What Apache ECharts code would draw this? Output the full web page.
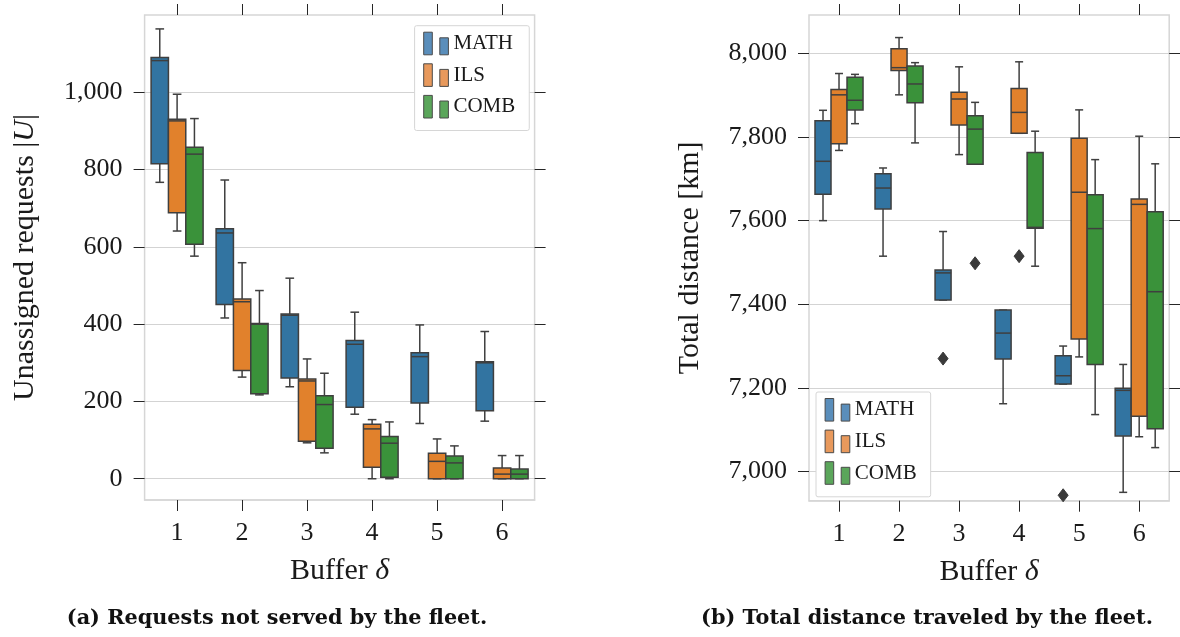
<!DOCTYPE html>
<html><head><meta charset="utf-8">
<script src="https://cdn.jsdelivr.net/npm/echarts@6/dist/echarts.min.js"></script>
<style>html,body{margin:0;padding:0;background:#fff}#c{width:1180px;height:637px}</style>
</head><body><div id="c"></div>
<script>
// ---------- data ----------
const categories = ['1', '2', '3', '4', '5', '6'];
const methods = ['MATH', 'ILS', 'COMB'];
// each row: [lower whisker, Q1, median, Q3, upper whisker] for buffer 1..6
const unassignedMATH = [[767, 815, 1082, 1090, 1164], [416, 451, 636, 647, 773], [238, 261, 423, 426, 519], [167, 185, 348, 358, 431], [143, 196, 316, 326, 398], [149, 176, 300, 303, 381]];
const unassignedILS  = [[641, 688, 926, 930, 995], [263, 280, 458, 465, 559], [93, 97, 253, 258, 310], [0, 30, 129, 141, 153], [0, 0, 45, 66, 103], [0, 0, 12, 28, 60]];
const unassignedCOMB = [[576, 607, 840, 858, 932], [217, 220, 400, 402, 487], [67, 79, 192, 215, 273], [0, 4, 92, 109, 147], [0, 0, 41, 59, 85], [0, 0, 12, 25, 60]];
const distanceMATH = [[7600, 7663, 7742, 7839, 7864], [7515, 7628, 7678, 7712, 7726], [7410, 7410, 7475, 7482, 7574], [7162, 7269, 7331, 7386, 7386], [7209, 7209, 7229, 7277, 7300], [6950, 7085, 7194, 7199, 7256]];
const distanceILS  = [[7768, 7784, 7901, 7914, 7952], [7901, 7959, 7966, 8011, 8038], [7758, 7829, 7891, 7907, 7968], [7809, 7809, 7859, 7916, 7980], [7274, 7317, 7668, 7797, 7865], [7083, 7132, 7639, 7652, 7802]];
const distanceCOMB = [[7832, 7865, 7888, 7943, 7950], [7786, 7882, 7927, 7970, 7978], [7735, 7735, 7819, 7851, 7883], [7491, 7582, 7584, 7763, 7814], [7136, 7256, 7581, 7662, 7746], [7057, 7102, 7430, 7621, 7736]];
// outliers: [buffer index (0-based), value]
const distanceOutliersMATH = [[2, 7270], [4, 6943]];
const distanceOutliersILS  = [[3, 7515]];
const distanceOutliersCOMB = [[2, 7498]];
const unassignedTicks = [0, 200, 400, 600, 800, 1000];
const distanceTicks = [7000, 7200, 7400, 7600, 7800, 8000];

// ---------- styles ----------
const FONT = "'Liberation Serif', 'DejaVu Serif', serif";
const TEXT = '#1a1a1a';
const EDGE = '#3f3f3f';
const TICK = '#262626';
const GRIDC = '#d3d3d3';
const FRAME = '#d6d6d6';
const boxColors = ['#3274a1', '#e1812c', '#3a923a'];
const legendColors = ['#5a8ebb', '#e8995c', '#5ba65b'];

function boxRenderer(hue) {
  return function (params, api) {
    const cat = api.value(0);
    const band = api.size([1, 0])[0];
    const w = band * 0.8 / 3;
    const cx = api.coord([cat, api.value(3)])[0] + (hue - 1) * w;
    const yLow = api.coord([cat, api.value(1)])[1];
    const yQ1 = api.coord([cat, api.value(2)])[1];
    const yMed = api.coord([cat, api.value(3)])[1];
    const yQ3 = api.coord([cat, api.value(4)])[1];
    const yHigh = api.coord([cat, api.value(5)])[1];
    const ls = { stroke: EDGE, lineWidth: 1.5 };
    const cw = w * 0.25;
    return {
      type: 'group',
      children: [
        { type: 'line', shape: { x1: cx, y1: yQ1, x2: cx, y2: yLow }, style: ls },
        { type: 'line', shape: { x1: cx - cw, y1: yLow, x2: cx + cw, y2: yLow }, style: ls },
        { type: 'line', shape: { x1: cx, y1: yQ3, x2: cx, y2: yHigh }, style: ls },
        { type: 'line', shape: { x1: cx - cw, y1: yHigh, x2: cx + cw, y2: yHigh }, style: ls },
        { type: 'rect', shape: { x: cx - w / 2, y: yQ3, width: w, height: Math.max(yQ1 - yQ3, 0.5) },
          style: { fill: boxColors[hue], stroke: EDGE, lineWidth: 1.5 } },
        { type: 'line', shape: { x1: cx - w / 2, y1: yMed, x2: cx + w / 2, y2: yMed }, style: ls }
      ]
    };
  };
}
function outlierRenderer(hue) {
  return function (params, api) {
    const cat = api.value(0);
    const band = api.size([1, 0])[0];
    const w = band * 0.8 / 3;
    const p = api.coord([cat, api.value(1)]);
    const cx = p[0] + (hue - 1) * w, cy = p[1];
    return {
      type: 'polygon',
      shape: { points: [[cx, cy - 6.5], [cx + 5, cy], [cx, cy + 6.5], [cx - 5, cy]] },
      style: { fill: '#3a3a3a', stroke: '#3a3a3a', lineWidth: 1 }
    };
  };
}
function boxData(arr) { return arr.map((r, i) => [i].concat(r)); }

const leftSets = [unassignedMATH, unassignedILS, unassignedCOMB];
const rightSets = [distanceMATH, distanceILS, distanceCOMB];
const rightOut = [distanceOutliersMATH, distanceOutliersILS, distanceOutliersCOMB];

const series = [];
methods.forEach((m, h) => {
  series.push({ type: 'custom', name: m, xAxisIndex: 0, yAxisIndex: 0, renderItem: boxRenderer(h),
    itemStyle: { color: boxColors[h] }, encode: { x: 0, y: [1, 2, 3, 4, 5] }, data: boxData(leftSets[h]), z: 3 });
  series.push({ type: 'custom', name: m, xAxisIndex: 2, yAxisIndex: 2, renderItem: boxRenderer(h),
    itemStyle: { color: boxColors[h] }, encode: { x: 0, y: [1, 2, 3, 4, 5] }, data: boxData(rightSets[h]), z: 3 });
  series.push({ type: 'custom', name: 'out-' + m, xAxisIndex: 2, yAxisIndex: 2, renderItem: outlierRenderer(h),
    encode: { x: 0, y: 1 }, data: rightOut[h], z: 4 });
});

const iconPath = 'path://M0,0H8.6V22.6H0Z M16.1,5.6H24.7V22.6H16.1Z';
function legendCfg(left, top) {
  return {
    orient: 'vertical', left: left, top: top,
    padding: [6, 14, 12, 8.6], itemGap: 8, itemWidth: 24.7, itemHeight: 22.6,
    backgroundColor: '#fff', borderColor: FRAME, borderWidth: 1, borderRadius: 2,
    icon: iconPath,
    itemStyle: { borderColor: '#4a4a4a', borderWidth: 1 },
    textStyle: { fontFamily: FONT, fontSize: 21, color: TEXT },
    data: methods.map((m, h) => ({ name: m, itemStyle: { color: legendColors[h] } }))
  };
}

function xAxes(grid) {
  const common = { gridIndex: grid, type: 'category', data: categories, boundaryGap: true,
    splitLine: { show: false } };
  return [
    Object.assign({}, common, { position: 'bottom',
      axisLine: { show: true, onZero: false, lineStyle: { color: FRAME, width: 1.5 } },
      axisTick: { show: true, inside: false, alignWithLabel: true, length: 11, lineStyle: { color: TICK, width: 1 } },
      axisLabel: { margin: 20, fontSize: 26, fontFamily: FONT, color: TEXT },
      name: 'Buffer {i|δ}', nameLocation: 'middle', nameGap: 56,
      nameTextStyle: { fontFamily: FONT, fontSize: 30, color: TEXT,
        rich: { i: { fontFamily: FONT, fontSize: 30, fontStyle: 'italic', color: TEXT } } } }),
    Object.assign({}, common, { position: 'top',
      axisLine: { show: false, onZero: false },
      axisTick: { show: true, alignWithLabel: true, length: 11, lineStyle: { color: TICK, width: 1 } },
      axisLabel: { show: false } })
  ];
}
function yAxes(grid, min, max, ticks, name, rich) {
  return [
    { gridIndex: grid, type: 'value', position: 'left', min: min, max: max,
      axisLine: { show: false, onZero: false },
      axisTick: { show: true, length: 11, customValues: ticks, lineStyle: { color: TICK, width: 1 } },
      axisLabel: { customValues: ticks, margin: 22, fontSize: 26, fontFamily: FONT, color: TEXT,
        formatter: v => Number(v).toLocaleString('en-US') },
      splitLine: { show: true, lineStyle: { color: GRIDC, width: 1 } },
      name: name, nameLocation: 'middle', nameGap: 104, nameRotate: 90,
      nameTextStyle: { fontFamily: FONT, fontSize: 30, color: TEXT, rich: rich } },
    { gridIndex: grid, type: 'value', position: 'right', min: min, max: max,
      axisLine: { show: false, onZero: false },
      axisTick: { show: true, length: 11, customValues: ticks, lineStyle: { color: TICK, width: 1 } },
      axisLabel: { show: false }, splitLine: { show: false } }
  ];
}

const option = {
  animation: false,
  backgroundColor: '#fff',
  grid: [
    { left: 144.6, top: 15, width: 390, height: 485, show: true, borderColor: FRAME, borderWidth: 1.5, backgroundColor: 'transparent' },
    { left: 809, top: 15, width: 360.2, height: 485.7, show: true, borderColor: FRAME, borderWidth: 1.5, backgroundColor: 'transparent' }
  ],
  title: [
    { text: '(a) Requests not served by the fleet.', left: 277, top: 608, textAlign: 'center', padding: 0,
      textStyle: { fontFamily: "'DejaVu Serif', serif", fontWeight: 'bold', fontSize: 20.8, color: '#111' } },
    { text: '(b) Total distance traveled by the fleet.', left: 927, top: 608, textAlign: 'center', padding: 0,
      textStyle: { fontFamily: "'DejaVu Serif', serif", fontWeight: 'bold', fontSize: 20.8, color: '#111' } }
  ],
  legend: [legendCfg(414.6, 25.7), legendCfg(816, 392)],
  xAxis: xAxes(0).concat(xAxes(1)),
  yAxis: yAxes(0, -55, 1200, unassignedTicks, 'Unassigned requests |{i|U}|',
      { i: { fontFamily: FONT, fontSize: 30, fontStyle: 'italic', color: TEXT } })
    .concat(yAxes(1, 6930, 8092, distanceTicks, 'Total distance [km]', {})),
  series: series
};

const chart = echarts.init(document.getElementById('c'), null, { renderer: 'canvas' });
chart.setOption(option);
</script>
</body></html>
